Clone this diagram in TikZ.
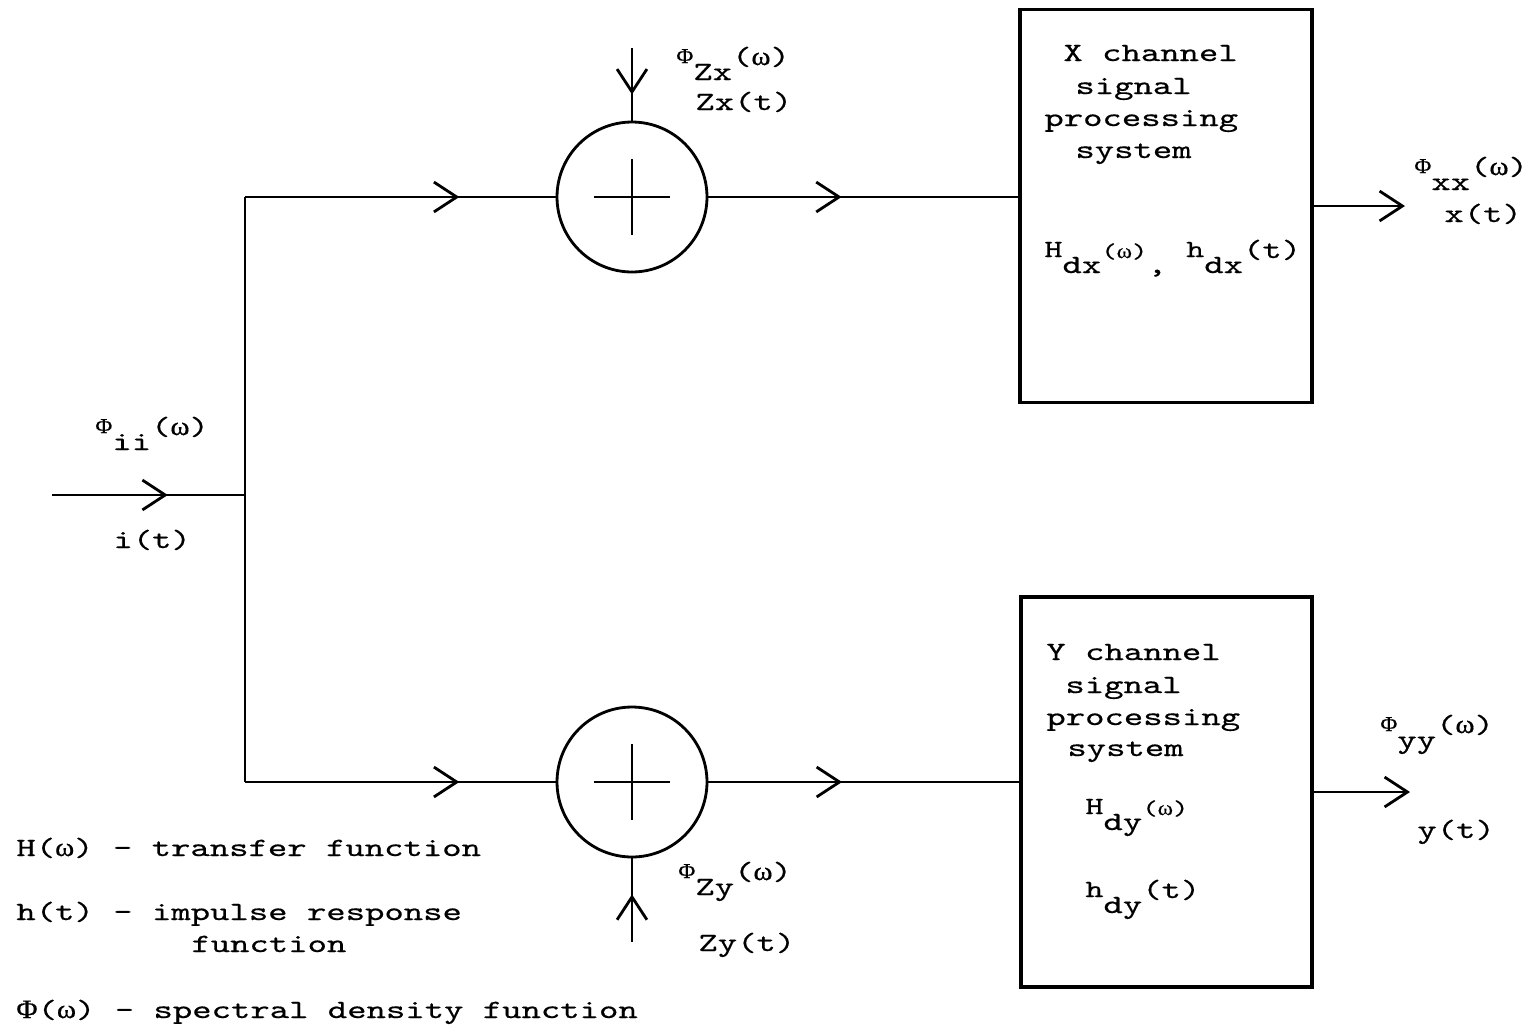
\documentclass[tikz,border=0pt]{standalone}
\usepackage{fontspec}
\setmainfont{lmmono10-regular.otf}[FakeStretch=1.4,FakeBold=0.5]
\newfontfamily\gr{Liberation Serif}[FakeStretch=1.1,FakeBold=0.5]
\usetikzlibrary{arrows.meta,decorations.markings}
\newcommand\sm{\fontsize{12}{12}\selectfont}
\newcommand\md{\fontsize{14}{14}\selectfont}
\newcommand\PHI{{\gr Φ}}
\newcommand\OM{{\gr ω}}
\newcommand\lab[3]{\raisebox{0.34cm}{\sm #1}#2\raisebox{0.3cm}{#3}}
\newcommand\labH[3]{\raisebox{0.32cm}{\md #1}#2\raisebox{0.3cm}{#3}}
\tikzset{
  tipv/.tip={Straight Barb[length=13pt,width=17pt]},
  midarr/.style={postaction={decorate},decoration={markings,mark=at position #1 with {\arrow{tipv}}}},
  sumnode/.style={circle,draw,minimum size=3cm,inner sep=0pt},
  sysbox/.style={rectangle,draw,line width=2pt,inner sep=0pt},
  txt/.style={inner sep=0pt,anchor=base west},
}
\begin{document}
\begin{tikzpicture}[x=0.02cm,y=-0.02cm,line width=1.6pt,font=\fontsize{15}{18}\selectfont]
\useasboundingbox (0,0) rectangle (1525,1028);
% structure
\coordinate (in) at (52,495);
\coordinate (jin) at (245,495);
\coordinate (jt) at (245,197);
\coordinate (jb) at (245,782);
\node[sumnode] (sx) at (632,197) {};
\node[sumnode] (sy) at (632,782) {};
\coordinate (nx) at (632,48);
\coordinate (ny) at (632,942);
\node[sysbox,minimum width=5.84cm,minimum height=7.86cm] (bx) at (1166,206) {};
\node[sysbox,minimum width=5.82cm,minimum height=7.8cm] (by) at (1166.5,792) {};
\coordinate (ox) at (1405,206);
\coordinate (oy) at (1410,792);
% plus signs
\draw ([xshift=-0.76cm]sx.center) -- ([xshift=0.76cm]sx.center);
\draw ([yshift=-0.76cm]sx.center) -- ([yshift=0.76cm]sx.center);
\draw ([xshift=-0.76cm]sy.center) -- ([xshift=0.76cm]sy.center);
\draw ([yshift=-0.76cm]sy.center) -- ([yshift=0.76cm]sy.center);
% connectors
\draw[midarr=0.6] (in) -- (jin);
\draw (jt) -- (jb);
\draw[midarr=0.69] (jt) -- (sx.west);
\draw[midarr=0.69] (jb) -- (sy.west);
\draw[midarr=0.64] (nx) -- (sx.north);
\draw[midarr=0.57] (ny) -- (sy.south);
\draw[midarr=0.43] (sx.east) -- (sx.east -| bx.west);
\draw[midarr=0.43] (sy.east) -- (sy.east -| by.west);
\draw[-{tipv}] (bx.east) -- (ox);
\draw[-{tipv}] (by.east) -- (oy);
% labels
\node[txt] (lii) at (94,450) {\lab{\PHI}{ii}{(\OM)}};
\node[txt] (lit) at (112,548) {i(t)};
\node[txt] (lzx) at (675,80) {\lab{\PHI}{Zx}{(\OM)}};
\node[txt] (lzxt) at (694,110) {Zx(t)};
\node[txt] (lzy) at (677,895) {\lab{\PHI}{Zy}{(\OM)}};
\node[txt] (lzyt) at (697,951) {Zy(t)};
\node[txt] (lxx) at (1413,190) {\lab{\PHI}{xx}{(\OM)}};
\node[txt] (lxt) at (1443,222) {x(t)};
\node[txt] (lyy) at (1379,748) {\lab{\PHI}{yy}{(\OM)}};
\node[txt] (lyt) at (1416,838) {y(t)};
% box texts
\node[txt] (x1) at (1062,61) {X channel};
\node[txt] (x2) at (1074,94) {signal};
\node[txt] (x3) at (1043,126) {processing};
\node[txt] (x4) at (1074,158) {system};
\node[txt] (x5) at (1043,273) {\labH{H}{dx}{\sm(\OM)}, \labH{h}{dx}{(t)}};
\node[txt] (y1) at (1045,660) {Y channel};
\node[txt] (y2) at (1064,693) {signal};
\node[txt] (y3) at (1045,725) {processing};
\node[txt] (y4) at (1066,756) {system};
\node[txt] (y5) at (1084,830) {\labH{H}{dy}{\sm(\OM)}};
\node[txt] (y6) at (1084,913) {\labH{h}{dy}{(t)}};
% legend
\node[txt] (g1) at (15,856) {H(\OM) - transfer function};
\node[txt] (g2) at (15,920) {h(t) - impulse response};
\node[txt] (g3) at (190,952) {function};
\node[txt] (g4) at (15,1018) {\PHI(\OM) - spectral density function};
\end{tikzpicture}
\end{document}
